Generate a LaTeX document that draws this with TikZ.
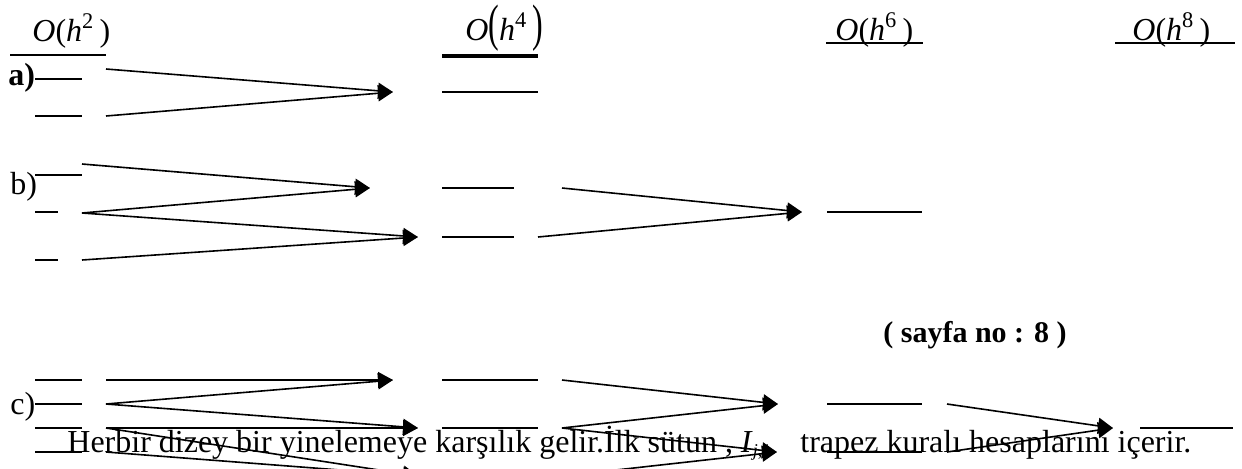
\documentclass[tikz,border=0pt]{standalone}
\usepackage{fontspec}
\usepackage{graphicx}
\setmainfont{Liberation Serif}
\usetikzlibrary{arrows.meta}
\begin{document}
\begin{tikzpicture}[x=0.5pt,y=-0.5pt,
  bar/.style={line width=0.8pt},
  conn/.style={line width=0.8pt,-{Triangle[length=7.5pt,width=8pt]}},
  lbl/.style={inner sep=0pt,anchor=base west,font=\fontsize{16}{18}\selectfont},
  hdr/.style={inner sep=0pt,anchor=base west,font=\fontsize{16}{18}\selectfont}]
\clip (0,0) rectangle (1242,468);
% headers
\node[hdr] (h2) at (32,41) {\textit{O}(\textit{h}\textsuperscript{2}\,)};
\node[hdr] (h4) at (465,40) {\textit{O}\scalebox{1}[1.6]{(}\textit{h}\textsuperscript{4}\,\scalebox{1}[1.6]{)}};
\node[hdr] (h6) at (835,40) {\textit{O}(\textit{h}\textsuperscript{6}\,)};
\node[hdr] (h8) at (1132,40) {\textit{O}(\textit{h}\textsuperscript{8}\,)};
\draw[line width=0.7pt] (10,55) -- (106,55);
\draw[line width=1.6pt] (442,56) -- (538,56);
\draw[line width=0.7pt] (826,43) -- (923,43);
\draw[line width=0.7pt] (1115,43) -- (1235,43);
% labels
\node[lbl,font=\fontsize{16}{18}\selectfont\bfseries] (la) at (8,85) {a)};
\node[lbl] (lb) at (10,194) {b)};
\node[lbl] (lc) at (10,414) {c)};
\node[lbl,font=\fontsize{15}{18}\selectfont\bfseries] (sayfa) at (883,342) {( sayfa no : 8 )};
\node[lbl] (t1) at (67,452) {Herbir dizey bir yinelemeye karşılık gelir.İlk sütun , \textit{I}\raisebox{-0.15em}{\fontsize{9}{9}\selectfont\textit{j},1}};
\node[lbl] (t2) at (800,452) {trapez kuralı hesaplarını içerir.};
% ---- row a
\draw[bar] (35,79) -- (82,79);
\draw[bar] (35,116) -- (82,116);
\draw[bar] (442,92) -- (538,92);
\coordinate (a1) at (106,69);
\coordinate (a2) at (106,116);
\coordinate (aT) at (393,92);
\draw[conn] (a1) -- (aT);
\draw[conn] (a2) -- (aT);
% ---- row b
\draw[bar] (35,175) -- (82,175);
\draw[bar] (35,212) -- (58,212);
\draw[bar] (35,260) -- (58,260);
\draw[bar] (442,188) -- (514,188);
\draw[bar] (442,237) -- (514,237);
\draw[bar] (827,212) -- (922,212);
\coordinate (b1) at (82,164);
\coordinate (b2) at (82,213);
\coordinate (b3) at (82,260);
\coordinate (bT1) at (370,188);
\coordinate (bT2) at (418,237);
\coordinate (b4) at (562,188);
\coordinate (b5) at (538,237);
\coordinate (bT3) at (802,212);
\draw[conn] (b1) -- (bT1);
\draw[conn] (b2) -- (bT1);
\draw[conn] (b2) -- (bT2);
\draw[conn] (b3) -- (bT2);
\draw[conn] (b4) -- (bT3);
\draw[conn] (b5) -- (bT3);
% ---- row c
\foreach \y in {380,404,428,452} \draw[bar] (35,\y) -- (82,\y);
\foreach \y in {380,428,476} \draw[bar] (442,\y) -- (538,\y);
\foreach \y in {404,452} \draw[bar] (827,\y) -- (922,\y);
\draw[bar] (1140,428) -- (1233,428);
\coordinate (c1) at (106,380);
\coordinate (c2) at (106,404);
\coordinate (c3) at (106,428);
\coordinate (c4) at (106,452);
\coordinate (cT1) at (393,380);
\coordinate (cT2) at (418,428);
\coordinate (cT3) at (418,476);
\draw[conn] (c1) -- (cT1);
\draw[conn] (c2) -- (cT1);
\draw[conn] (c2) -- (cT2);
\draw[conn] (c3) -- (cT2);
\draw[conn] (c3) -- (cT3);
\draw[conn] (c4) -- (cT3);
\coordinate (d1) at (562,380);
\coordinate (d2) at (562,428);
\coordinate (d3) at (562,476);
\coordinate (dT1) at (778,404);
\coordinate (dT2) at (777,452);
\draw[conn] (d1) -- (dT1);
\draw[conn] (d2) -- (dT1);
\draw[conn] (d2) -- (dT2);
\draw[conn] (d3) -- (dT2);
\coordinate (e1) at (947,404);
\coordinate (e2) at (947,452);
\coordinate (eT) at (1113,428);
\draw[conn] (e1) -- (eT);
\draw[conn] (e2) -- (eT);
\end{tikzpicture}
\end{document}
